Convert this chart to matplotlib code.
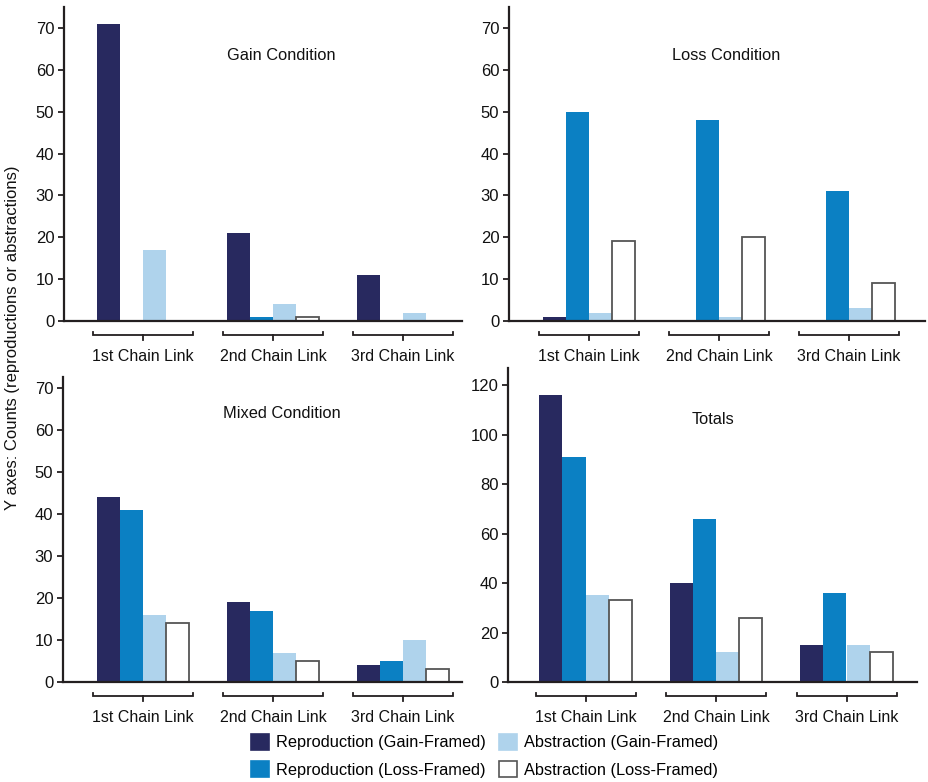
import matplotlib
matplotlib.use("Agg")
import matplotlib.pyplot as plt
import matplotlib.transforms as mtransforms
from matplotlib.patches import Patch
import numpy as np

plt.rcParams['font.family'] = ['Liberation Sans', 'DejaVu Sans']

categories = ["1st Chain Link", "2nd Chain Link", "3rd Chain Link"]
series_names = ["Reproduction (Gain-Framed)", "Reproduction (Loss-Framed)",
                "Abstraction (Gain-Framed)", "Abstraction (Loss-Framed)"]

gain_rep_gain = [71, 21, 11]
gain_rep_loss = [0, 1, 0]
gain_abs_gain = [17, 4, 2]
gain_abs_loss = [0, 1, 0]

loss_rep_gain = [1, 0, 0]
loss_rep_loss = [50, 48, 31]
loss_abs_gain = [2, 1, 3]
loss_abs_loss = [19, 20, 9]

mixed_rep_gain = [44, 19, 4]
mixed_rep_loss = [41, 17, 5]
mixed_abs_gain = [16, 7, 10]
mixed_abs_loss = [14, 5, 3]

total_rep_gain = [116, 40, 15]
total_rep_loss = [91, 66, 36]
total_abs_gain = [35, 12, 15]
total_abs_loss = [33, 26, 12]

panel_titles = ["Gain Condition", "Loss Condition", "Mixed Condition", "Totals"]

colors = ['#28295f', '#0b80c3', '#afd3ec', '#ffffff']
edges = ['none', 'none', 'none', '#555555']
axis_col = '#231f20'

W, H = 929, 782
fig = plt.figure(figsize=(W / 100, H / 100), dpi=100)

panels = [
    dict(l=64, r=462, t=7, b=321, c0=143, sp=130, ymax=75, yt=np.arange(0, 71, 10),
         data=[gain_rep_gain, gain_rep_loss, gain_abs_gain, gain_abs_loss],
         title=panel_titles[0], tx=281, ty=55),
    dict(l=509, r=925, t=7, b=321, c0=589, sp=130, ymax=75, yt=np.arange(0, 71, 10),
         data=[loss_rep_gain, loss_rep_loss, loss_abs_gain, loss_abs_loss],
         title=panel_titles[1], tx=726, ty=55),
    dict(l=63, r=462, t=377, b=682, c0=143, sp=130, ymax=72.6, yt=np.arange(0, 71, 10),
         data=[mixed_rep_gain, mixed_rep_loss, mixed_abs_gain, mixed_abs_loss],
         title=panel_titles[2], tx=282, ty=413),
    dict(l=508, r=917, t=368, b=682, c0=585.5, sp=130.5, ymax=127, yt=np.arange(0, 121, 20),
         data=[total_rep_gain, total_rep_loss, total_abs_gain, total_abs_loss],
         title=panel_titles[3], tx=713, ty=419),
]

width = 23 / 130
x = np.arange(len(categories))

for p in panels:
    ax = fig.add_axes([p['l'] / W, (H - p['b']) / H, (p['r'] - p['l']) / W, (p['b'] - p['t']) / H])
    for i, vals in enumerate(p['data']):
        ax.bar(x + (i - 1.5) * width, vals, width, color=colors[i],
               edgecolor=edges[i], linewidth=1.3 if edges[i] != 'none' else 0, zorder=2)
    ax.set_xlim((p['l'] - p['c0']) / p['sp'], (p['r'] - p['c0']) / p['sp'])
    ax.set_ylim(0, p['ymax'])
    ax.set_yticks(p['yt'])
    ax.tick_params(axis='y', direction='out', length=4, width=1.3, colors=axis_col,
                   labelsize=12, labelcolor='#111111', pad=3)
    ax.set_xticks(x)
    ax.set_xticklabels(categories, fontsize=11.5, color='#111111')
    ax.tick_params(axis='x', length=0, pad=20.5)
    for s in ['top', 'right']:
        ax.spines[s].set_visible(False)
    for s in ['left', 'bottom']:
        ax.spines[s].set_color(axis_col)
        ax.spines[s].set_linewidth(1.6)
    ax.text((p['tx'] - p['l']) / (p['r'] - p['l']), (p['b'] - p['ty']) / (p['b'] - p['t']),
            p['title'], transform=ax.transAxes, ha='center', va='center', fontsize=11.8,
            color='#111111')
    base = mtransforms.blended_transform_factory(ax.transData, ax.transAxes)
    half = 50 / p['sp']
    hpx = p['b'] - p['t']
    tr_line = base + mtransforms.ScaledTranslation(0, -14 / 100, fig.dpi_scale_trans)
    for xc in x:
        ax.plot([xc - half, xc - half, xc + half, xc + half],
                [3 / hpx, 0, 0, 3 / hpx],
                transform=tr_line, color=axis_col, lw=1.3, clip_on=False,
                solid_joinstyle='miter')
        ax.plot([xc, xc], [0, -5 / hpx], transform=tr_line,
                color=axis_col, lw=1.3, clip_on=False)

fig.text(13 / W, 1 - 338 / H, "Y axes: Counts (reproductions or abstractions)",
         rotation=90, ha='center', va='center', fontsize=12, color='#111111')

handles = [Patch(facecolor=colors[i], edgecolor=(edges[i] if edges[i] != 'none' else colors[i]),
                 linewidth=1.2) for i in range(4)]
fig.legend(handles, series_names, ncol=2, loc='upper left',
           bbox_to_anchor=(251 / W, 1 - 734 / H), frameon=False, fontsize=11.8,
           handlelength=1.1, handleheight=1.1, handletextpad=0.4,
           columnspacing=0.85, labelspacing=0.65, borderpad=0, borderaxespad=0)

fig.savefig("out.png", dpi=100)
